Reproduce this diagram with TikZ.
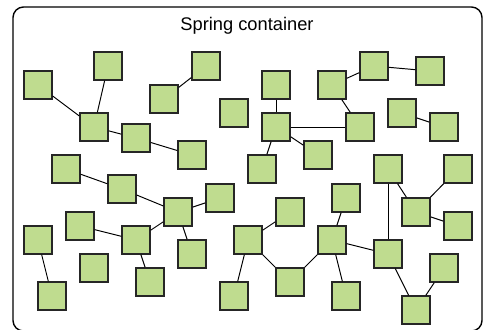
\documentclass[tikz,border=0pt]{standalone}
\usepackage{fontspec}
\setmainfont{Liberation Sans}
\usepackage{tikz}
\definecolor{boxgreen}{RGB}{191,220,143}
\tikzset{
  body/.style={draw=black!85, fill=boxgreen, line width=0.8pt, minimum size=0.56cm, inner sep=0pt},
  spring/.style={draw=black, line width=0.55pt}
}

\begin{document}
\begin{tikzpicture}[x=0.02cm, y=-0.02cm]
		\useasboundingbox (0,0) rectangle (483,330);
		\draw[line width=0.8pt, rounded corners=6] (13,7) rectangle (482,331);
		\node (title) at (247,25.5) {\fontsize{10.4}{12}\selectfont Spring container};
		%\node[body] (x) at (0,0) {};
		\foreach \n/\x/\y in {a/38/85, b/108/66, c/164/99, d/206/66, e/234/113, f/94/127, g/136/138, h/192/155, i/66/169,
			j/276/85, k/332/85, l/374/66, m/430/71, n/276/127, o/360/127, p/402/113, q/444/127, r/318/155, s/262/169, t/388/169, u/458/169,
			v/122/189, w/178/212, x/220/198, y/80/226, z/136/240, aa/192/254, bb/38/240, cc/94/268, dd/150/282, ee/52/296, ff/234/296,
			gg/346/198, hh/290/212, ii/416/212, jj/458/226, kk/248/240, ll/332/240, mm/388/254, nn/290/282, oo/346/296, pp/444/268, qq/416/310}
			\node[body] (\n) at (\x,\y) {};
		\foreach \u/\v in {a/f, b/f, c/d, f/g, g/h, i/v, v/w, w/x, w/z, w/aa, y/z, z/dd, bb/ee,
			j/n, n/o, k/l, k/o, l/m, p/q, n/r, n/s, t/mm, t/ii, u/ii, ii/jj,
			kk/hh, kk/nn, nn/ll, ll/gg, ll/oo, ll/mm, mm/qq, pp/qq, ff/kk}
			\draw[spring] (\u) -- (\v);
	\end{tikzpicture}
\end{document}
